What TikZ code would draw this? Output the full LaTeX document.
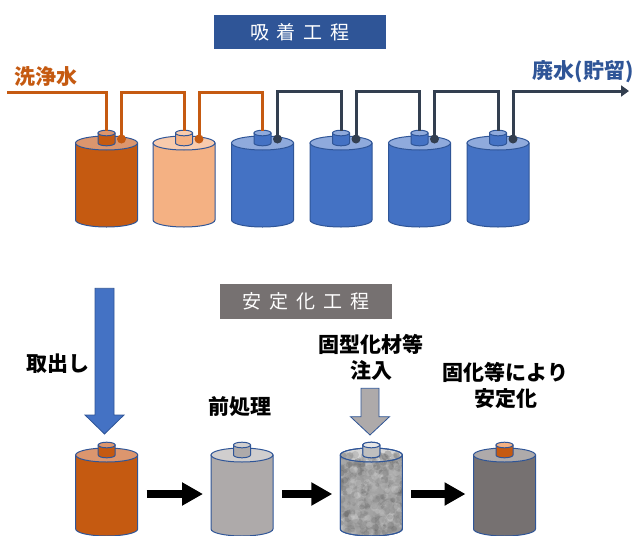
\documentclass[tikz,border=0pt]{standalone}
\usepackage{fontspec}
\setmainfont{Noto Sans CJK JP}
\usetikzlibrary{arrows.meta}

\definecolor{rust}{HTML}{C55A11}
\definecolor{rustlight}{HTML}{DC966E}
\definecolor{peach}{HTML}{F4B183}
\definecolor{peachlight}{HTML}{F8CBAD}
\definecolor{resin}{HTML}{4472C4}
\definecolor{resinlight}{HTML}{8FAADC}
\definecolor{edge}{HTML}{2F5597}
\definecolor{drain}{HTML}{333F50}
\definecolor{stone}{HTML}{AEAAAA}
\definecolor{stonelight}{HTML}{D0CECE}
\definecolor{solid}{HTML}{767171}

% small cylinder on the lid: x, lid y, body colour, top colour
\newcommand{\drawcap}[4]{%
  \filldraw[tankline, fill=#3] (#1-8.5,#2-10) -- (#1-8.5,#2)
    arc[start angle=180, end angle=0, x radius=8.5, y radius=2.8] -- (#1+8.5,#2-10) -- cycle;
  \filldraw[tankline, fill=#4] (#1,#2-10) ellipse[x radius=8.5, y radius=2.8];
}
% tank: name, x, top y, bottom y, body, top, cap body, cap top
\newcommand{\drawtank}[8]{%
  \filldraw[tankline, fill=#5] (#2-31,#3) -- (#2-31,#4)
    arc[start angle=180, end angle=0, x radius=31, y radius=7] -- (#2+31,#3) -- cycle;
  \filldraw[tankline, fill=#6] (#2,#3) ellipse[x radius=31, y radius=7];
  \drawcap{#2}{#3}{#7}{#8}
  \coordinate (#1-cap)  at (#2,#3-12);
  \coordinate (#1-port) at (#2+15,#3-4);
  \coordinate (#1-w)    at (#2-31,#3+39);
  \coordinate (#1-e)    at (#2+31,#3+39);
}
% block arrow pointing down: x, top, head base, tip, half shaft, half head, style
\newcommand{\blockdown}[7]{%
  \filldraw[#7] (#1-#5,#2) -- (#1+#5,#2) -- (#1+#5,#3) -- (#1+#6,#3)
    -- (#1,#4) -- (#1-#6,#3) -- (#1-#5,#3) -- cycle;
}

\begin{document}
\begin{tikzpicture}[x=1pt, y=-1pt,
    tankline/.style={draw=edge, line width=1pt},
    washpipe/.style={draw=rust, line width=3pt},
    drainpipe/.style={draw=drain, line width=3pt},
    label/.style={font=\fontsize{21}{26}\selectfont\bfseries, inner sep=0pt, align=center},
    stage/.style={minimum width=172pt, minimum height=34pt, inner sep=0pt,
                  text=white, font=\fontsize{19}{22}\selectfont},
    fatarrow/.style={line width=8pt, -{Triangle[length=21pt, width=22pt]},
                     shorten <=9pt, shorten >=8pt},
    block/.style={draw=edge, line width=0.8pt},
]
\useasboundingbox (0,0) rectangle (633,536);
\clip (0,0) rectangle (633,536);

% adsorption line
\node[stage, fill=edge] (adsorb) at (300,32) {吸\hspace{8pt}着\hspace{8pt}工\hspace{8pt}程};

\drawtank{t1}{106.5}{143}{220}{rust}{rustlight}{rust}{rustlight}
\drawtank{t2}{184}{143}{220}{peach}{peachlight}{peach}{peachlight}
\drawtank{t3}{262.5}{143}{220}{resin}{resinlight}{resin}{resinlight}
\drawtank{t4}{341}{143}{220}{resin}{resinlight}{resin}{resinlight}
\drawtank{t5}{419.5}{143}{220}{resin}{resinlight}{resin}{resinlight}
\drawtank{t6}{498}{143}{220}{resin}{resinlight}{resin}{resinlight}

\coordinate (wash-in) at (7,92);
\coordinate (drain-out) at (629,91);

\draw[washpipe] (wash-in) -| (t1-cap);
\draw[washpipe] (t1-port) -- ++(0,-47) -| (t2-cap);
\draw[washpipe] (t2-port) -- ++(0,-47) -| (t3-cap);
\draw[drainpipe] (t3-port) -- ++(0,-48) -| (t4-cap);
\draw[drainpipe] (t4-port) -- ++(0,-48) -| (t5-cap);
\draw[drainpipe] (t5-port) -- ++(0,-48) -| (t6-cap);
\draw[drainpipe, -{Triangle[length=8pt, width=11pt]}] (t6-port) |- (drain-out);

\foreach \t in {t1,t2} \fill[rust] (\t-port) circle[radius=4.5];
\foreach \t in {t3,t4,t5,t6} \fill[drain] (\t-port) circle[radius=4.5];

\node[label, text=rust] (washlabel) at (45.8,76.7) {洗浄水};
\node[label, text=edge] (drainlabel) at (583,72) {廃水(貯留)};

% stabilisation line
\node[stage, fill=solid, minimum height=35pt] (stabilise) at (305.8,301.5)
  {安\hspace{8pt}定\hspace{8pt}化\hspace{8pt}工\hspace{8pt}程};

\drawtank{b1}{106.7}{455}{529}{rust}{rustlight}{rust}{rustlight}
\drawtank{b2}{242}{455}{529}{stone}{stonelight}{stone}{stonelight}
\drawtank{b3}{371.3}{455}{529}{black!36}{black!16}{black!25}{black!10}
\drawtank{b4}{504.5}{455}{529}{solid}{stone}{rust}{peach}

% grain of the filled tank
\begin{scope}
  \clip (371.3-31,455) -- (371.3-31,529)
    arc[start angle=180, end angle=0, x radius=31, y radius=7] -- (371.3+31,455)
    arc[start angle=0, end angle=-180, x radius=31, y radius=7] -- cycle;
  \pgfmathsetseed{11}
  \foreach \k in {1,...,700}{
    \pgfmathsetmacro\px{371.3+32*rand}
    \pgfmathsetmacro\py{494+40*rand}
    \pgfmathsetmacro\pr{1.5+2.5*rnd}
    \pgfmathtruncatemacro\pg{15+50*rnd}
    \fill[black!\pg!white, opacity=0.3] (\px,\py) circle[radius=\pr];
  }
\end{scope}
\draw[tankline] (371.3-31,455) -- (371.3-31,529)
  arc[start angle=180, end angle=0, x radius=31, y radius=7] -- (371.3+31,455);
\draw[tankline] (371.3,455) ellipse[x radius=31, y radius=7];
\drawcap{371.3}{455}{black!25}{black!10}

\blockdown{104.5}{288.3}{415}{434}{9.5}{19.5}{block, fill=resin}
\blockdown{370}{388.3}{416.7}{435}{9}{19.5}{block, fill=stone}

\draw[fatarrow] (b1-e) -- (b2-w);
\draw[fatarrow] (b2-e) -- (b3-w);
\draw[fatarrow] (b3-e) -- (b4-w);

\node[label] (takeout) at (58.3,363.3) {取出し};
\node[label] (pretreat) at (240,406.7) {前処理};
\node[label] (inject) at (371,357.5) {固型化材等\\注入};
\node[label] (stable) at (505.5,385) {固化等により\\安定化};
\end{tikzpicture}
\end{document}
